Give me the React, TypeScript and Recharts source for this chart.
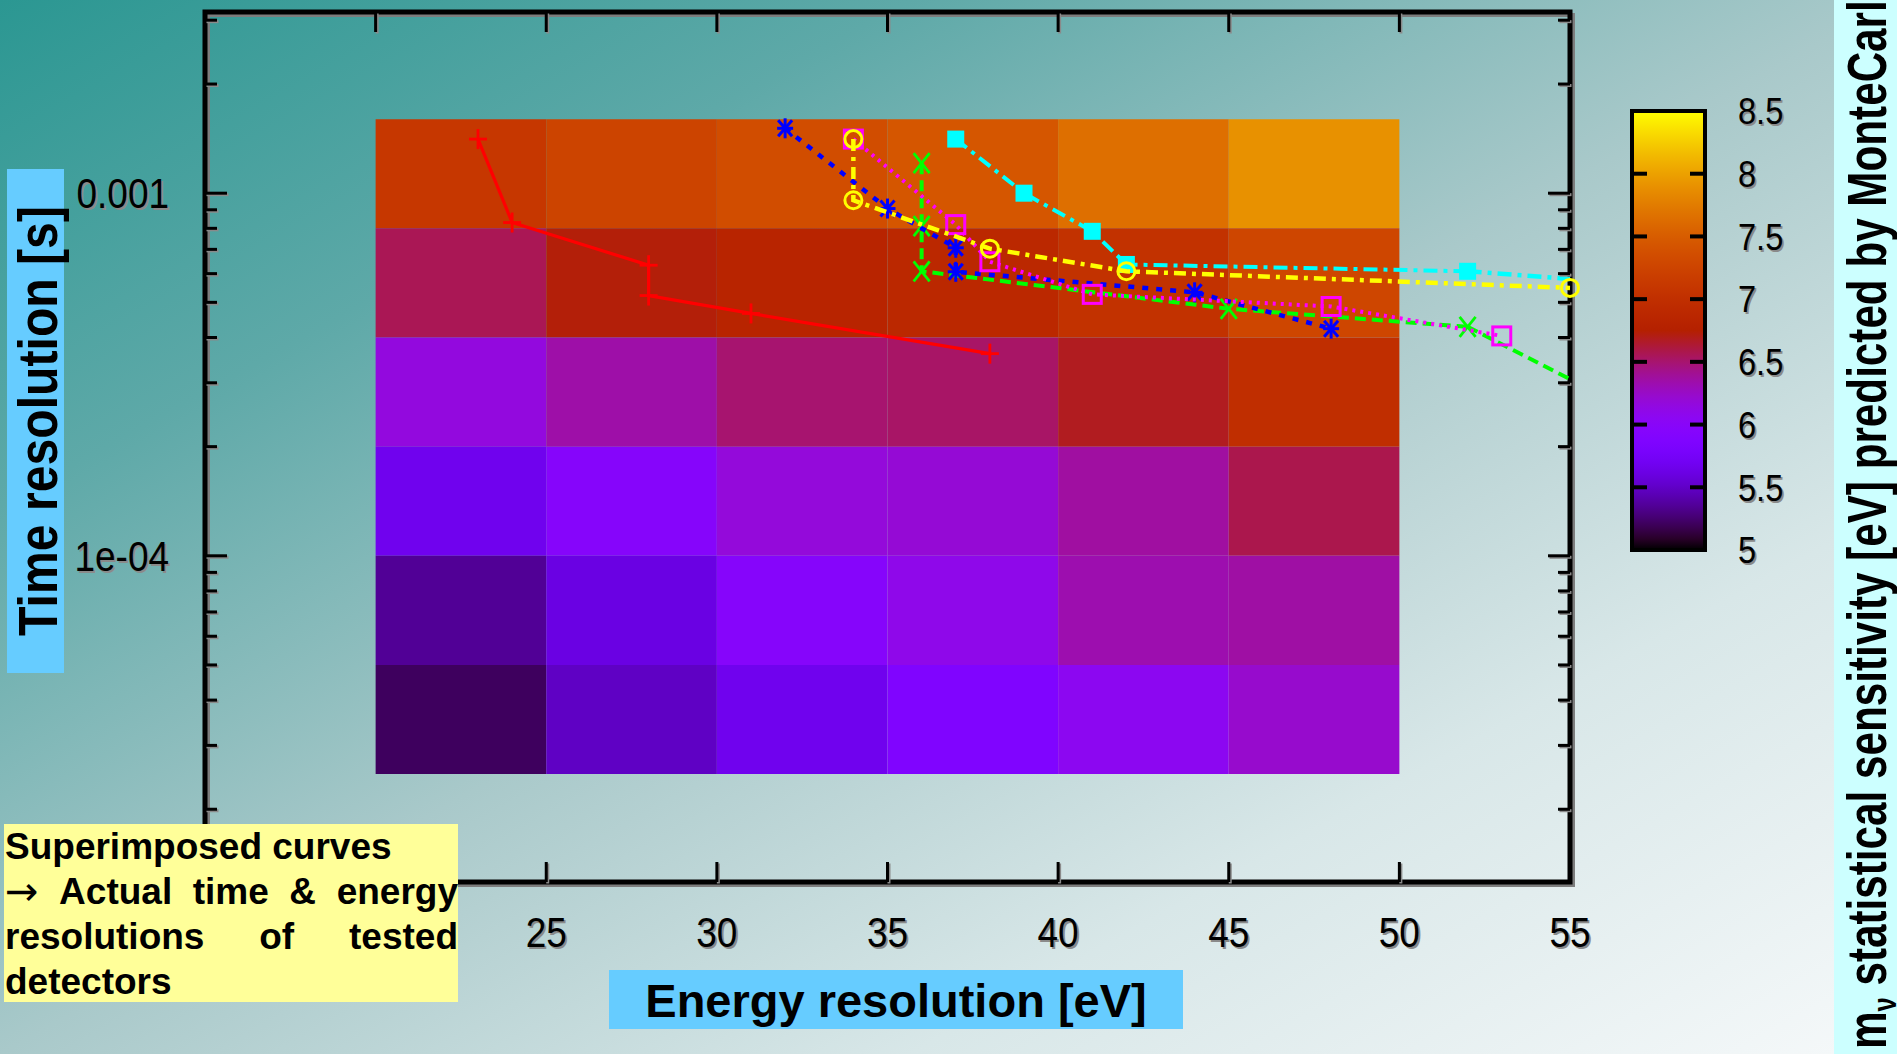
import React from 'react';
import { ComposedChart, XAxis, YAxis, Scatter, ReferenceArea } from 'recharts';

// ---------- data ----------
const energyEdges = [20, 25, 30, 35, 40, 45, 50];
const timeEdges = [1.6e-3, 8e-4, 4e-4, 2e-4, 1e-4, 5e-5, 2.5e-5];

// m_nu sensitivity [eV], one array per time band (top to bottom), columns = energy bins
const sensRow1 = [7.1, 7.25, 7.35, 7.44, 7.65, 7.9];
const sensRow2 = [6.56, 6.73, 6.83, 6.88, 7.03, 7.28];
const sensRow3 = [6.16, 6.35, 6.5, 6.52, 6.68, 6.98];
const sensRow4 = [5.67, 5.97, 6.18, 6.2, 6.37, 6.58];
const sensRow5 = [5.35, 5.61, 5.97, 6.1, 6.33, 6.36];
const sensRow6 = [5.21, 5.49, 5.67, 5.88, 6.06, 6.23];
const sensRows = [sensRow1, sensRow2, sensRow3, sensRow4, sensRow5, sensRow6];

const xTicks = [15, 20, 25, 30, 35, 40, 45, 50, 55];
const xTickLabels = ['', '', '25', '30', '35', '40', '45', '50', '55'];
const yMinorTicks = [2e-5, 3e-5, 4e-5, 5e-5, 6e-5, 7e-5, 8e-5, 9e-5, 2e-4, 3e-4, 4e-4, 5e-4, 6e-4, 7e-4, 8e-4, 9e-4, 2e-3, 3e-3];
const yMajorTicks = [1e-4, 1e-3];
const yMajorLabels = ['1e-04', '0.001'];
const cbTicks = [5, 5.5, 6, 6.5, 7, 7.5, 8, 8.5];
const cbLabels = ['5', '5.5', '6', '6.5', '7', '7.5', '8', '8.5'];

const redPoints = [[23, 1.41e-3], [24, 8.3e-4], [28, 6.33e-4], [28, 5.22e-4], [31, 4.66e-4], [38, 3.61e-4]];
const bluePoints = [[32, 1.51e-3], [35, 9.07e-4], [37, 7.07e-4], [37, 6.07e-4], [44, 5.33e-4], [48, 4.23e-4]];
const yellowPoints = [[34, 1.41e-3], [34, 9.56e-4], [38, 7.03e-4], [42, 6.09e-4], [55, 5.48e-4]];
const magentaPoints = [[34, 1.41e-3], [37, 8.19e-4], [38, 6.47e-4], [41, 5.26e-4], [48, 4.87e-4], [53, 4.04e-4]];
const greenPoints = [[36, 1.21e-3], [36, 8.11e-4], [36, 6.09e-4], [45, 4.8e-4], [52, 4.28e-4]];
const greenTail = [[55, 3.07e-4]];
const cyanPoints = [[37, 1.41e-3], [39, 1.0e-3], [41, 7.85e-4], [42, 6.36e-4], [52, 6.09e-4]];
const cyanTail = [[55, 5.8e-4]];

// ---------- layout / helpers ----------
const W = 1897;
const H = 1054;
const MARGIN = { top: 12, right: 327, bottom: 72, left: 55 };
const Y_AXIS_W = 150;
const X_AXIS_H = 100;
const PLOT_W = W - MARGIN.left - MARGIN.right - Y_AXIS_W;
const PLOT_H = H - MARGIN.top - MARGIN.bottom - X_AXIS_H;

const X_MIN = 15;
const X_MAX = 55;
const Y_MIN = 1.26e-5;
const Y_MAX = 3.16e-3;
const CB_MIN = 5;
const CB_MAX = 8.5;
const FONT = '"Liberation Sans", Arial, Helvetica, sans-serif';

const toObjs = (pts: number[][]) => pts.map(([x, y]) => ({ x, y }));

function palette(v: number): string {
  const t = Math.min(1, Math.max(0, (v - CB_MIN) / (CB_MAX - CB_MIN)));
  const r = Math.sqrt(t);
  const g = t * t * t;
  const b = Math.max(0, Math.sin(2 * Math.PI * t));
  const h = (c: number) => Math.round(Math.min(1, Math.max(0, c)) * 255).toString(16).padStart(2, '0');
  return '#' + h(r) + h(g) + h(b);
}

const ShadowText = ({ x, y, anchor, size, sx = 0.88, children }: any) => (
  <g transform={`translate(${x},${y}) scale(${sx},1)`}>
    <text x={2} y={2} textAnchor={anchor} dominantBaseline="central" fontSize={size} fontFamily={FONT} fill="#8a8a8a">
      {children}
    </text>
    <text x={0} y={0} textAnchor={anchor} dominantBaseline="central" fontSize={size} fontFamily={FONT} fill="#000">
      {children}
    </text>
  </g>
);

const TickLine = ({ x1, y1, x2, y2 }: any) => (
  <g>
    <line x1={x1 + 1.5} y1={y1 + 1.5} x2={x2 + 1.5} y2={y2 + 1.5} stroke="#8a8a8a" strokeWidth={3} />
    <line x1={x1} y1={y1} x2={x2} y2={y2} stroke="#000" strokeWidth={3} />
  </g>
);

const isCornerX = (v: number) => v === X_MIN || v === X_MAX;
const majorIndex = (v: number) => yMajorTicks.findIndex((m) => Math.abs(m - v) / m < 1e-6);

// bottom axis: labels + inward ticks on bottom and mirrored ticks on top frame
const BottomTick = (props: any) => {
  const { x, y, payload } = props;
  const v = payload.value;
  const i = xTicks.indexOf(v);
  const top = y - PLOT_H;
  return (
    <g>
      {!isCornerX(v) && <TickLine x1={x} y1={y} x2={x} y2={y - 20} />}
      {!isCornerX(v) && <TickLine x1={x} y1={top} x2={x} y2={top + 20} />}
      {xTickLabels[i] && (
        <ShadowText x={x} y={y + 50} anchor="middle" size={42}>{xTickLabels[i]}</ShadowText>
      )}
    </g>
  );
};

// left axis: labels + inward ticks on left and mirrored ticks on right frame
const LeftTick = (props: any) => {
  const { x, y, payload } = props;
  const mi = majorIndex(payload.value);
  const len = mi >= 0 ? 22 : 12;
  const right = x + PLOT_W;
  return (
    <g>
      <TickLine x1={x} y1={y} x2={x + len} y2={y} />
      <TickLine x1={right} y1={y} x2={right - len} y2={y} />
      {mi >= 0 && <ShadowText x={x - 36} y={y} anchor="end" size={42}>{yMajorLabels[mi]}</ShadowText>}
    </g>
  );
};

const CbLeftTick = (props: any) => {
  const { x, y, payload } = props;
  const v = payload.value;
  if (v === CB_MIN || v === CB_MAX) return <g />;
  return <line x1={x} y1={y} x2={x + 15} y2={y} stroke="#000" strokeWidth={4} />;
};

const CbRightTick = (props: any) => {
  const { x, y, payload } = props;
  const v = payload.value;
  const i = cbTicks.indexOf(v);
  return (
    <g>
      {v !== CB_MIN && v !== CB_MAX && <line x1={x} y1={y} x2={x - 15} y2={y} stroke="#000" strokeWidth={4} />}
      <ShadowText x={x + 33} y={y} anchor="start" size={37}>{cbLabels[i]}</ShadowText>
    </g>
  );
};

const FrameShape = (props: any) => {
  const { x, y, width, height } = props;
  return (
    <g>
      <rect x={x + 3} y={y + 3} width={width} height={height} fill="none" stroke="#7d7d7d" strokeWidth={4} />
      <rect x={x} y={y} width={width} height={height} fill="none" stroke="#000" strokeWidth={5} />
    </g>
  );
};

// markers
const plusShape = (c: string) => (p: any) => (
  <g stroke={c} strokeWidth={2.8}>
    <line x1={p.cx - 9} y1={p.cy} x2={p.cx + 9} y2={p.cy} />
    <line x1={p.cx} y1={p.cy - 10} x2={p.cx} y2={p.cy + 10} />
  </g>
);
const crossShape = (c: string) => (p: any) => (
  <g stroke={c} strokeWidth={2.8}>
    <line x1={p.cx - 8} y1={p.cy - 10} x2={p.cx + 8} y2={p.cy + 10} />
    <line x1={p.cx - 8} y1={p.cy + 10} x2={p.cx + 8} y2={p.cy - 10} />
  </g>
);
const starShape = (c: string) => (p: any) => (
  <g stroke={c} strokeWidth={3}>
    <line x1={p.cx - 8} y1={p.cy} x2={p.cx + 8} y2={p.cy} />
    <line x1={p.cx} y1={p.cy - 10} x2={p.cx} y2={p.cy + 10} />
    <line x1={p.cx - 7} y1={p.cy - 8} x2={p.cx + 7} y2={p.cy + 8} />
    <line x1={p.cx - 7} y1={p.cy + 8} x2={p.cx + 7} y2={p.cy - 8} />
  </g>
);
const circleShape = (c: string) => (p: any) => (
  <circle cx={p.cx} cy={p.cy} r={8.5} fill="none" stroke={c} strokeWidth={3} />
);
const openSquareShape = (c: string) => (p: any) => (
  <rect x={p.cx - 9} y={p.cy - 9} width={18} height={18} fill="none" stroke={c} strokeWidth={3} />
);
const filledSquareShape = (c: string) => (p: any) => (
  <rect x={p.cx - 8.5} y={p.cy - 8.5} width={17} height={17} fill={c} stroke="none" />
);
const noShape = () => <g />;

const RED = '#ff0000';
const BLUE = '#0000ff';
const YELLOW = '#ffff00';
const MAGENTA = '#ff00ff';
const GREEN = '#00ff00';
const CYAN = '#00ffff';

const gradStops = Array.from({ length: 41 }, (_, i) => i / 40);
const cbData = cbTicks.map((v) => ({ x: 0.5, v }));

export default function App() {
  const cells: React.ReactNode[] = [];
  sensRows.forEach((row, j) => {
    row.forEach((v, i) => {
      cells.push(
        <ReferenceArea
          key={`c${j}-${i}`}
          x1={energyEdges[i]}
          x2={energyEdges[i + 1]}
          y1={timeEdges[j + 1]}
          y2={timeEdges[j]}
          fill={palette(v)}
          fillOpacity={1}
          stroke="none"
          ifOverflow="visible"
        />
      );
    });
  });

  const yAllTicks = [...yMinorTicks, ...yMajorTicks].sort((a, b) => a - b);

  return (
    <div
      style={{
        position: 'absolute',
        left: 0,
        top: 0,
        width: W,
        height: H,
        overflow: 'hidden',
        background: 'linear-gradient(to bottom right, #2b9792 0%, #5ea9a8 24%, #a9c9ca 50%, #d8e7e8 74%, #f6f9fa 100%)',
      }}
    >
      <div style={{ position: 'absolute', left: 0, top: 0 }}>
        <ComposedChart width={W} height={H} margin={MARGIN}>
          <XAxis
            type="number"
            dataKey="x"
            domain={[X_MIN, X_MAX]}
            ticks={xTicks}
            interval={0}
            height={X_AXIS_H}
            tickSize={0}
            tickMargin={0}
            axisLine={false}
            tickLine={false}
            tick={BottomTick}
          />
          <YAxis
            type="number"
            dataKey="y"
            scale="log"
            domain={[Y_MIN, Y_MAX]}
            ticks={yAllTicks}
            interval={0}
            width={Y_AXIS_W}
            tickSize={0}
            tickMargin={0}
            axisLine={false}
            tickLine={false}
            tick={LeftTick}
          />
          {cells}
          <ReferenceArea x1={X_MIN} x2={X_MAX} y1={Y_MIN} y2={Y_MAX} ifOverflow="visible" shape={FrameShape} />

          <Scatter data={toObjs(redPoints)} fill={RED} isAnimationActive={false}
            line={{ stroke: RED, strokeWidth: 3.2 }} shape={plusShape(RED)} />
          <Scatter data={toObjs([greenPoints[greenPoints.length - 1], ...greenTail])} fill={GREEN} isAnimationActive={false}
            line={{ stroke: GREEN, strokeWidth: 4, strokeDasharray: '11 6' }} shape={noShape} />
          <Scatter data={toObjs(greenPoints)} fill={GREEN} isAnimationActive={false}
            line={{ stroke: GREEN, strokeWidth: 4, strokeDasharray: '11 6' }} shape={crossShape(GREEN)} />
          <Scatter data={toObjs(bluePoints)} fill={BLUE} isAnimationActive={false}
            line={{ stroke: BLUE, strokeWidth: 4.5, strokeDasharray: '6 8' }} shape={starShape(BLUE)} />
          <Scatter data={toObjs(magentaPoints)} fill={MAGENTA} isAnimationActive={false}
            line={{ stroke: MAGENTA, strokeWidth: 4, strokeDasharray: '3 5' }} shape={openSquareShape(MAGENTA)} />
          <Scatter data={toObjs([cyanPoints[cyanPoints.length - 1], ...cyanTail])} fill={CYAN} isAnimationActive={false}
            line={{ stroke: CYAN, strokeWidth: 4.5, strokeDasharray: '14 6 4 6' }} shape={noShape} />
          <Scatter data={toObjs(cyanPoints)} fill={CYAN} isAnimationActive={false}
            line={{ stroke: CYAN, strokeWidth: 4, strokeDasharray: '14 6 4 6' }} shape={filledSquareShape(CYAN)} />
          <Scatter data={toObjs(yellowPoints)} fill={YELLOW} isAnimationActive={false}
            line={{ stroke: YELLOW, strokeWidth: 4.5, strokeDasharray: '12 6 4 6' }} shape={circleShape(YELLOW)} />
        </ComposedChart>
      </div>

      {/* colour bar */}
      <div style={{ position: 'absolute', left: 1600, top: 90 }}>
        <ComposedChart width={260} height={490} margin={{ top: 21, right: 55, bottom: 30, left: 31 }} data={cbData}>
          <defs>
            <linearGradient id="cbGrad" x1="0" y1="1" x2="0" y2="0">
              {gradStops.map((t) => (
                <stop key={t} offset={`${t * 100}%`} stopColor={palette(CB_MIN + t * (CB_MAX - CB_MIN))} />
              ))}
            </linearGradient>
          </defs>
          <XAxis type="number" dataKey="x" domain={[0, 1]} hide />
          <YAxis
            yAxisId="l"
            orientation="left"
            type="number"
            dataKey="v"
            domain={[CB_MIN, CB_MAX]}
            ticks={cbTicks}
            interval={0}
            width={1}
            tickSize={0}
            tickMargin={0}
            axisLine={false}
            tickLine={false}
            tick={CbLeftTick}
          />
          <YAxis
            yAxisId="r"
            orientation="right"
            type="number"
            dataKey="v"
            domain={[CB_MIN, CB_MAX]}
            ticks={cbTicks}
            interval={0}
            width={100}
            tickSize={0}
            tickMargin={0}
            axisLine={false}
            tickLine={false}
            tick={CbRightTick}
          />
          <Scatter yAxisId="l" data={cbData} dataKey="v" isAnimationActive={false} shape={noShape} />
          <Scatter yAxisId="r" data={cbData} dataKey="v" isAnimationActive={false} shape={noShape} />
          <ReferenceArea yAxisId="r" x1={0} x2={1} y1={CB_MIN} y2={CB_MAX} fill="url(#cbGrad)" fillOpacity={1}
            stroke="#000" strokeWidth={4} ifOverflow="visible" />
        </ComposedChart>
      </div>

      {/* labels */}
      <svg width={W} height={H} style={{ position: 'absolute', left: 0, top: 0, pointerEvents: 'none' }}>
        <rect x={7} y={169} width={57} height={504} fill="#66ccff" />
        <text transform="translate(57,421) rotate(-90) scale(0.86,1)" textAnchor="middle" fontFamily={FONT}
          fontWeight="bold" fontSize={56} fill="#000">Time resolution [s]</text>
        <rect x={609} y={970} width={574} height={59} fill="#66ccff" />
        <text x={896} y={1017} textAnchor="middle" fontFamily={FONT} fontWeight="bold" fontSize={47} fill="#000">
          Energy resolution [eV]
        </text>
        <rect x={1834} y={0} width={63} height={1054} fill="#ccffff" />
        <text transform="translate(1886,1049) rotate(-90) scale(0.754,1)" textAnchor="start" fontFamily={FONT}
          fontWeight="bold" fontSize={56} fill="#000">
          m<tspan fontSize={34} dy={10}>ν</tspan>
          <tspan dy={-10}> statistical sensitivity [eV] predicted by MonteCarlo</tspan>
        </text>
      </svg>

      <div
        style={{
          position: 'absolute',
          left: 4,
          top: 824,
          width: 454,
          height: 178,
          background: '#ffff99',
          fontFamily: FONT,
          fontWeight: 'bold',
          fontSize: 37,
          lineHeight: '45px',
          color: '#000',
          boxSizing: 'border-box',
          paddingLeft: 1,
          whiteSpace: 'nowrap',
        }}
      >
        <div>Superimposed curves</div>
        <div style={{ display: 'flex', justifyContent: 'space-between' }}>
          {['→', 'Actual', 'time', '&', 'energy'].map((w) => (
            <span key={w} style={w === '→' ? { fontFamily: '"DejaVu Sans", sans-serif', fontWeight: 'normal', fontSize: 40 } : undefined}>
              {w}
            </span>
          ))}
        </div>
        <div style={{ display: 'flex', justifyContent: 'space-between' }}>
          {['resolutions', 'of', 'tested'].map((w) => (
            <span key={w}>{w}</span>
          ))}
        </div>
        <div>detectors</div>
      </div>
    </div>
  );
}
